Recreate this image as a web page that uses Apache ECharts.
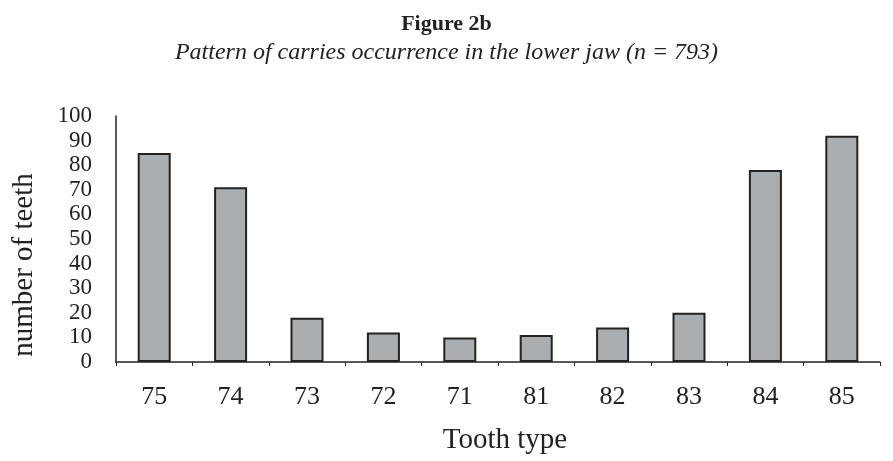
<!DOCTYPE html>
<html>
<head>
<meta charset="utf-8">
<script src="https://cdn.jsdelivr.net/npm/echarts@6/dist/echarts.min.js"></script>
<style>
  html, body { margin: 0; padding: 0; background: #fff; }
  #bar-chart { width: 893px; height: 461px; }
</style>
</head>
<body>
<div id="bar-chart"></div>
<script>
// tooth types and counts
let toothTypes = ["75", "74", "73", "72", "71", "81", "82", "83", "84", "85"];
let toothCounts = [85, 71, 18, 12, 10, 11, 14, 20, 78, 92];

let serif = "Liberation Serif";

let barChart = echarts.init(document.getElementById("bar-chart"));

let bar_option = {
    animation: false,
    title: [{
        text: "Figure 2b",
        left: "center",
        top: 8,
        textStyle: { fontFamily: serif, fontSize: 22, fontWeight: "bold", color: "#222" }
    }, {
        text: "Pattern of carries occurrence in the lower jaw (n = 793)",
        left: "center",
        top: 36,
        textStyle: { fontFamily: serif, fontSize: 24, fontStyle: "italic", fontWeight: "normal", color: "#222" }
    }],
    grid: { left: 116, right: 13, top: 116, bottom: 99 },
    xAxis: {
        type: "category",
        data: toothTypes,
        name: "Tooth type",
        nameLocation: "middle",
        nameGap: 64,
        nameTextStyle: { fontFamily: serif, fontSize: 29, color: "#222", padding: [0, 0, 0, 14] },
        axisLine: { lineStyle: { color: "#222", width: 1.5 } },
        axisTick: { show: true, length: 4, lineStyle: { color: "#222" } },
        axisLabel: { fontFamily: serif, fontSize: 26, color: "#222", margin: 22 }
    },
    yAxis: {
        type: "value",
        min: 0,
        max: 100,
        interval: 10,
        name: "number of teeth",
        nameLocation: "middle",
        nameGap: 77,
        nameTextStyle: { fontFamily: serif, fontSize: 29, color: "#222", padding: [0, 52, 0, 0] },
        axisLine: { show: true, lineStyle: { color: "#222", width: 1.5 } },
        axisTick: { show: false },
        splitLine: { show: false },
        axisLabel: { fontFamily: serif, fontSize: 23, color: "#222", margin: 24 }
    },
    series: [{
        type: "bar",
        data: toothCounts,
        barWidth: 33,
        itemStyle: { color: "#aaaeb1", borderColor: "#222", borderWidth: 2 }
    }]
};
barChart.setOption(bar_option);
</script>
</body>
</html>
